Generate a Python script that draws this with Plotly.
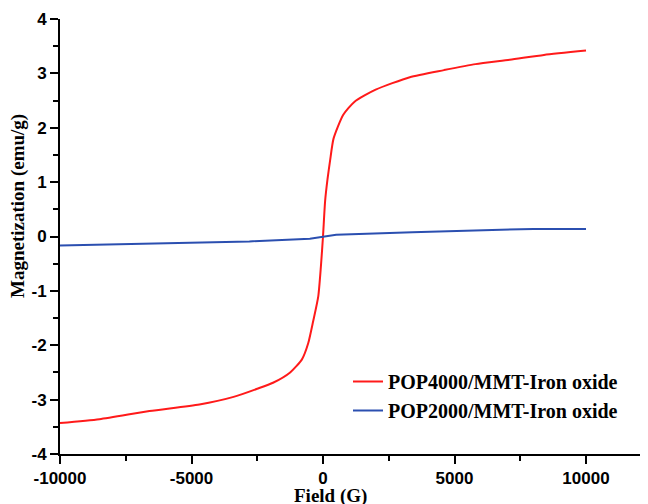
import plotly.graph_objects as go

# Data
field_red = [-10000, -8500, -6600, -4700, -3400, -2500, -1900, -1250, -800, -560, -370, -180, -80,
             0, 80, 170, 270, 400, 770, 1200, 2000, 3300, 4600, 5800, 7100, 8400, 10000]
mag_red = [-3.43, -3.36, -3.21, -3.09, -2.95, -2.80, -2.69, -2.50, -2.26, -1.96, -1.55, -1.10, -0.55,
           0.0, 0.65, 1.05, 1.40, 1.80, 2.24, 2.48, 2.70, 2.93, 3.06, 3.17, 3.25, 3.34, 3.42]

field_blue = [-10000, -6000, -2800, -500, 0, 500, 3400, 6000, 8000, 10000]
mag_blue = [-0.165, -0.13, -0.09, -0.04, 0.0, 0.03, 0.08, 0.12, 0.14, 0.14]

name_red = "POP4000/MMT-Iron oxide"
name_blue = "POP2000/MMT-Iron oxide"

x_ticks = [-10000, -5000, 0, 5000, 10000]
y_ticks = [-4, -3, -2, -1, 0, 1, 2, 3, 4]

fig = go.Figure()
fig.add_trace(go.Scatter(x=field_red, y=mag_red, mode="lines", name=name_red,
                         line=dict(color="#ff1a1a", width=2, shape="spline", smoothing=0.6)))
fig.add_trace(go.Scatter(x=field_blue, y=mag_blue, mode="lines", name=name_blue,
                         line=dict(color="#2b4fb0", width=2)))

# page offset of the figure (body margin) is 8 px
OFF = 8
PL, PT, W, H = 60, 19, 588, 435   # plot area in page pixels

axis_common = dict(showline=True, linecolor="black", linewidth=2, ticks="outside",
                   ticklen=8, tickwidth=2, tickcolor="black", showgrid=False, zeroline=False,
                   automargin=False,
                   tickfont=dict(family="Liberation Sans", size=17, color="black", weight="bold"))

fig.update_xaxes(range=[-10000, 12357], tickvals=x_ticks, ticktext=[str(v) for v in x_ticks],
                 minor=dict(dtick=2500, tick0=0, ticks="outside", ticklen=5, tickwidth=2, tickcolor="black"),
                 **axis_common)
fig.update_yaxes(range=[-4, 4], tickvals=y_ticks, ticktext=[str(v) for v in y_ticks],
                 minor=dict(dtick=0.5, tick0=0, ticks="outside", ticklen=5, tickwidth=2, tickcolor="black"),
                 **axis_common)

FW, FH = 648 - OFF, 504 - OFF
fig.update_layout(
    width=FW, height=FH,
    margin=dict(l=PL - OFF, r=FW - (PL - OFF) - W, t=PT - OFF, b=FH - (PT - OFF) - H, autoexpand=False),
    plot_bgcolor="white", paper_bgcolor="white",
    showlegend=True,
    legend=dict(x=288 / W, y=1 - 343 / H, xanchor="left", yanchor="top",
                bgcolor="rgba(0,0,0,0)", tracegroupgap=0,
                font=dict(family="Liberation Serif", size=20, color="black", weight="bold")),
    annotations=[
        dict(text="Magnetization (emu/g)", x=(18 - PL) / W, y=(PT + H - 206) / H, xref="paper", yref="paper",
             textangle=-90, showarrow=False, xanchor="center", yanchor="middle",
             font=dict(family="Liberation Serif", size=19, color="black", weight="bold")),
        dict(text="Field (G)", x=(330 - PL) / W, y=(PT + H - 496) / H, xref="paper", yref="paper",
             showarrow=False, xanchor="center", yanchor="middle",
             font=dict(family="Liberation Serif", size=19, color="black", weight="bold")),
    ],
)

fig.write_html("out.html")
